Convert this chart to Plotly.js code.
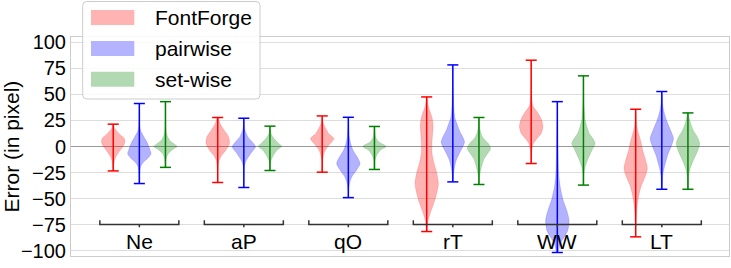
<!DOCTYPE html>
<html>
<head>
<meta charset="utf-8">
<script src="https://cdn.plot.ly/plotly-3.0.1.min.js"></script>
<style>html,body{margin:0;padding:0;background:#fff;}#chart{width:731px;height:268px;}</style>
</head>
<body>
<div id="chart"></div>
<script>
// ---------- data ----------
const categories = ['Ne', 'aP', 'qO', 'rT', 'WW', 'LT'];
const seriesNames = ['FontForge', 'pairwise', 'set-wise'];
const yTickVals = [-100, -75, -50, -25, 0, 25, 50, 75, 100];
const yTickText = ['\u2212100', '\u221275', '\u221250', '\u221225', '0', '25', '50', '75', '100'];

// extremes (whisker caps)
const ffMax = [21.4, 27.8, 29.3, 47.5, 82.7, 35.7];
const ffMin = [-23.4, -34.5, -24.6, -81.5, -16.3, -86.6];
const pwMax = [41.2, 27.1, 28.0, 78.2, 43.0, 52.7];
const pwMin = [-35.5, -39.3, -49.0, -33.9, -101.6, -41.0];
const swMax = [43.0, 19.5, 19.2, 27.8, 67.7, 32.2];
const swMin = [-20.0, -23.0, -22.0, -36.4, -37.0, -41.0];

// density profiles: value levels and relative widths
const ffProfileY = [
  [21.4, 18, 15.5, 12.3, 7.7, 4.5, 1.2, -3.5, -8.3, -13, -17.8, -23.4],
  [27.8, 22, 15.6, 9.2, 2.9, -3.5, -8.3, -13.1, -18, -25, -34.5],
  [29.3, 25, 22, 17.2, 12.4, 7.6, 2.8, -2, -6.8, -11.6, -16.3, -24.6],
  [47.5, 40, 34.7, 28, 20, 12, 3, -6, -15, -25, -35.5, -45, -54.7, -64, -72, -81.5],
  [82.7, 60, 45, 41.2, 38, 31.6, 25.2, 18.8, 12.5, 7.7, 2.9, -1.9, -7, -16.3],
  [35.7, 25, 18.8, 12.5, 4.4, -3.5, -13.1, -21, -29, -37, -45, -54.6, -64, -74, -86.6]
];
const ffProfileW = [
  [0.03, 0.1, 0.25, 0.5, 0.95, 1.0, 0.9, 0.6, 0.3, 0.12, 0.05, 0.02],
  [0.05, 0.2, 0.55, 0.93, 1.0, 0.7, 0.35, 0.12, 0.05, 0.02, 0.01],
  [0.02, 0.05, 0.1, 0.3, 0.55, 1.0, 0.7, 0.35, 0.15, 0.06, 0.03, 0.02],
  [0.03, 0.1, 0.25, 0.45, 0.55, 0.5, 0.45, 0.45, 0.6, 0.85, 1.0, 0.85, 0.6, 0.3, 0.1, 0.02],
  [0.01, 0.02, 0.06, 0.1, 0.2, 0.6, 0.9, 1.0, 0.85, 0.5, 0.2, 0.08, 0.03, 0.01],
  [0.02, 0.05, 0.1, 0.25, 0.45, 0.6, 0.85, 1.0, 0.8, 0.5, 0.3, 0.15, 0.07, 0.03, 0.01]
];
const pwProfileY = [
  [41.2, 30, 20, 15, 9, 3, -3, -7, -11, -15, -19, -27, -35.5],
  [27.1, 20, 15.6, 9.2, 4.5, -0.3, -5.1, -9.9, -14.7, -19.5, -28, -39.3],
  [28, 20, 10, 2.8, -3.5, -9.9, -16.3, -22.7, -29, -35.5, -42, -49],
  [78.2, 65, 50, 40, 32, 26.3, 22, 15.6, 9.2, 4.4, -0.3, -6.7, -13, -19.5, -25.8, -33.9],
  [43, 20, 6, -5, -19.5, -30, -38.7, -51.5, -61, -70.6, -80.2, -86.6, -93, -101.6],
  [52.7, 42, 34.8, 25.2, 15.6, 7.7, 0, -8.3, -16.3, -22.7, -29, -41]
];
const pwProfileW = [
  [0.01, 0.02, 0.04, 0.12, 0.4, 0.7, 0.9, 1.0, 0.75, 0.35, 0.12, 0.04, 0.02],
  [0.01, 0.04, 0.1, 0.35, 0.7, 1.0, 0.7, 0.4, 0.15, 0.05, 0.02, 0.01],
  [0.01, 0.03, 0.08, 0.2, 0.4, 0.75, 1.0, 0.7, 0.3, 0.1, 0.03, 0.01],
  [0.01, 0.02, 0.04, 0.07, 0.12, 0.2, 0.35, 0.55, 0.85, 1.0, 0.85, 0.55, 0.3, 0.15, 0.06, 0.02],
  [0.01, 0.03, 0.05, 0.07, 0.1, 0.15, 0.25, 0.5, 0.8, 1.0, 0.9, 0.6, 0.25, 0.05],
  [0.02, 0.06, 0.15, 0.4, 0.75, 1.0, 0.8, 0.5, 0.3, 0.15, 0.06, 0.02]
];
const swProfileY = [
  [43, 30, 20, 12, 6, 2, 0, -3, -6, -10, -15, -20],
  [19.5, 15, 12.3, 7.6, 2.9, 0.3, -3.5, -8.3, -13, -18, -23],
  [19.2, 14, 9.2, 4.5, 0, -3.5, -8.3, -13, -22],
  [27.8, 20, 15.6, 9.2, 2.8, -2, -6.7, -11.5, -16.3, -22.7, -29, -36.4],
  [67.7, 50, 38, 31.6, 25.2, 18.8, 12.5, 7.7, 2.9, -1.9, -6.7, -13, -19.5, -25.8, -37],
  [32.2, 25.2, 15.6, 9.2, 2.9, -3.5, -10, -16.3, -22.7, -29, -41]
];
const swProfileW = [
  [0.01, 0.02, 0.04, 0.1, 0.35, 0.8, 1.0, 0.6, 0.3, 0.1, 0.04, 0.02],
  [0.02, 0.05, 0.1, 0.35, 0.75, 1.0, 0.6, 0.3, 0.1, 0.04, 0.02],
  [0.02, 0.05, 0.1, 0.35, 1.0, 0.5, 0.2, 0.06, 0.02],
  [0.03, 0.06, 0.1, 0.3, 0.8, 1.0, 0.75, 0.45, 0.3, 0.15, 0.05, 0.02],
  [0.01, 0.03, 0.06, 0.1, 0.15, 0.3, 0.5, 0.8, 1.0, 0.8, 0.6, 0.35, 0.15, 0.05, 0.02],
  [0.05, 0.15, 0.45, 0.8, 1.0, 0.85, 0.6, 0.35, 0.15, 0.06, 0.02]
];

// ---------- styling ----------
const FONT = 'Liberation Sans, Arial, Helvetica, sans-serif';
const lineColors = ['#ff0000', '#0000ff', '#008000'];
const fillColors = ['rgba(255,0,0,0.3)', 'rgba(0,0,255,0.3)', 'rgba(0,128,0,0.3)'];
const patchColors = ['#ffb3b3', '#b3b3ff', '#b3d9b3'];
const offsets = [-0.25, 0, 0.25];
const HALF_W = 0.112;
const CAP_W = 0.053;

const seriesMax = [ffMax, pwMax, swMax];
const seriesMin = [ffMin, pwMin, swMin];
const seriesPY = [ffProfileY, pwProfileY, swProfileY];
const seriesPW = [ffProfileW, pwProfileW, swProfileW];

const traces = [];
// bodies
for (let s = 0; s < 3; s++) {
  for (let c = 0; c < categories.length; c++) {
    const pos = c + 1 + offsets[s];
    const ys = seriesPY[s][c], ws = seriesPW[s][c];
    const xr = ys.map((y, k) => pos + ws[k] * HALF_W);
    const xl = ys.map((y, k) => pos - ws[k] * HALF_W).reverse();
    traces.push({
      type: 'scatter', mode: 'lines',
      x: xr.concat(xl), y: ys.concat(ys.slice().reverse()),
      fill: 'toself', fillcolor: fillColors[s],
      line: {color: fillColors[s], width: 0.5, shape: 'spline', smoothing: 0.7},
      hoverinfo: 'skip', showlegend: false
    });
  }
}
// whiskers
for (let s = 0; s < 3; s++) {
  const xs = [], ys = [];
  for (let c = 0; c < categories.length; c++) {
    const pos = c + 1 + offsets[s];
    const mx = seriesMax[s][c], mn = seriesMin[s][c];
    xs.push(pos, pos, null, pos - CAP_W, pos + CAP_W, null, pos - CAP_W, pos + CAP_W, null);
    ys.push(mx, mn, null, mx, mx, null, mn, mn, null);
  }
  traces.push({
    type: 'scatter', mode: 'lines', x: xs, y: ys,
    line: {color: lineColors[s], width: 1.5},
    hoverinfo: 'skip', showlegend: false, name: seriesNames[s]
  });
}

// ---------- layout ----------
const W = 731, H = 268, ML = 71, MR = 2, MT = 37, MB = 12;
const PW = W - ML - MR, PH = H - MT - MB;
const px = v => (v - ML) / PW;
const py = v => (H - MB - v) / PH;

const shapes = [];
const annotations = [];

// brackets under each group
const BR_HALF = 0.378, BR_Y = -74.7, BR_TOP = -70.6, BR_BOT = -77.3;
categories.forEach((cat, c) => {
  const x0 = c + 1 - BR_HALF, x1 = c + 1 + BR_HALF, xm = c + 1;
  shapes.push({
    type: 'path', xref: 'x', yref: 'y', layer: 'above',
    path: `M${x0},${BR_TOP} L${x0},${BR_Y} L${x1},${BR_Y} L${x1},${BR_TOP} M${xm},${BR_Y} L${xm},${BR_BOT}`,
    line: {color: '#333333', width: 1.5}
  });
  annotations.push({
    xref: 'x', yref: 'y', x: xm, y: -91.5, text: cat, showarrow: false,
    xanchor: 'center', yanchor: 'middle', font: {family: FONT, size: 21, color: '#000'}
  });
});

// y axis title
annotations.push({
  xref: 'paper', yref: 'paper', x: px(11), y: py(146.5), text: 'Error (in pixel)',
  textangle: -90, showarrow: false, xanchor: 'center', yanchor: 'middle',
  font: {family: FONT, size: 21, color: '#000'}
});

// legend (drawn by hand)
const LX0 = 82.7, LX1 = 260, LY0 = 1.5, LY1 = 99, R = 4;
const rx = R / PW, ry = R / PH;
const a = px(LX0), b = px(LX1), t = py(LY0), u = py(LY1);
shapes.push({
  type: 'path', xref: 'paper', yref: 'paper', layer: 'above',
  path: `M${a + rx},${t} L${b - rx},${t} Q${b},${t} ${b},${t - ry} L${b},${u + ry} Q${b},${u} ${b - rx},${u} L${a + rx},${u} Q${a},${u} ${a},${u + ry} L${a},${t - ry} Q${a},${t} ${a + rx},${t} Z`,
  fillcolor: 'rgba(255,255,255,0.85)', line: {color: '#cccccc', width: 1}
});
const rowTop = [10, 41, 71.7];
seriesNames.forEach((name, s) => {
  shapes.push({
    type: 'rect', xref: 'paper', yref: 'paper', layer: 'above',
    x0: px(91), x1: px(134.3), y0: py(rowTop[s] + 15), y1: py(rowTop[s]),
    fillcolor: patchColors[s], line: {width: 0}
  });
  annotations.push({
    xref: 'paper', yref: 'paper', x: px(152.7), y: py(rowTop[s] + 7.5), text: name,
    showarrow: false, xanchor: 'left', yanchor: 'middle',
    font: {family: FONT, size: 21, color: '#000'}
  });
});

const layout = {
  width: W, height: H,
  margin: {l: ML, r: MR, t: MT, b: MB, pad: 0},
  paper_bgcolor: '#ffffff', plot_bgcolor: '#ffffff',
  showlegend: false,
  xaxis: {
    range: [0.346, 6.643], showgrid: false, zeroline: false, showticklabels: false,
    ticks: '', showline: true, mirror: true, linecolor: '#cccccc', linewidth: 1, fixedrange: true
  },
  yaxis: {
    range: [-104.95, 104.95], tickvals: yTickVals, ticktext: yTickText,
    tickfont: {family: FONT, size: 20, color: '#000'},
    ticks: '', showgrid: true, gridcolor: '#dddddd', gridwidth: 1,
    zeroline: true, zerolinecolor: '#999999', zerolinewidth: 1,
    showline: true, mirror: true, linecolor: '#cccccc', linewidth: 1, fixedrange: true
  },
  shapes: shapes,
  annotations: annotations
};

Plotly.newPlot('chart', traces, layout, {displayModeBar: false, staticPlot: true});
</script>
</body>
</html>
